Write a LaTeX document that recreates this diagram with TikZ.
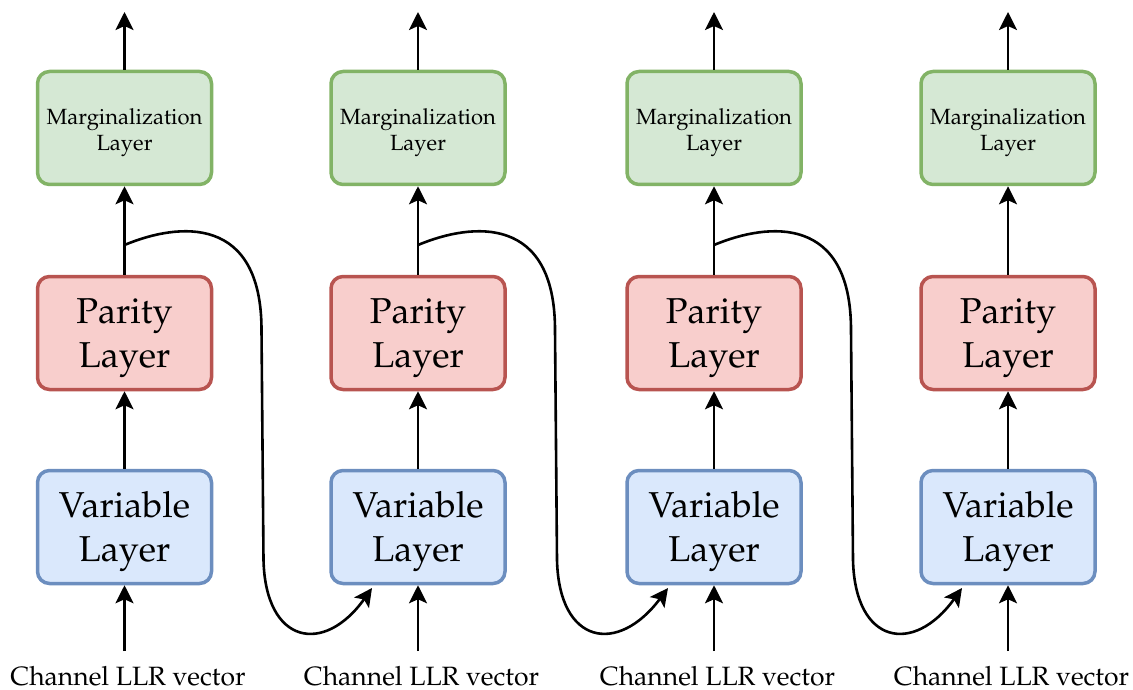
\documentclass[tikz,border=0pt]{standalone}
\usepackage[T1]{fontenc}
\usepackage{mathpazo}
\usetikzlibrary{arrows.meta}
\definecolor{gfill}{HTML}{D5E8D4}
\definecolor{gdraw}{HTML}{82B366}
\definecolor{rfill}{HTML}{F8CECC}
\definecolor{rdraw}{HTML}{B85450}
\definecolor{bfill}{HTML}{DAE8FC}
\definecolor{bdraw}{HTML}{6C8EBF}
\newcommand\twoline[2]{\raisebox{-4pt}[\height][\depth]{\begin{tabular}{@{}c@{}}#1\\#2\end{tabular}}}
\begin{document}
\begin{tikzpicture}[x=1pt,y=-1pt,
  box/.style={draw, line width=3.5pt, rounded corners=12pt, minimum width=174pt, minimum height=113pt, align=center, inner sep=0pt},
  margbox/.style={box, fill=gfill, draw=gdraw, font=\fontsize{22}{26}\selectfont},
  parbox/.style={box, fill=rfill, draw=rdraw, font=\fontsize{36}{44}\selectfont},
  varbox/.style={box, fill=bfill, draw=bdraw, font=\fontsize{36}{44}\selectfont},
  lbl/.style={font=\fontsize{26.5}{30}\selectfont, inner sep=0pt, anchor=base},
  conn/.style={line width=2.6pt, -{Stealth[length=18pt,width=18pt,inset=4pt]}}
]
\useasboundingbox (0,0) rectangle (1133,690);
\foreach \i/\x in {1/124.5,2/418,3/714,4/1008} {
  \node[margbox] (m\i) at (\x,128) {\twoline{Marginalization}{Layer}};
  \node[parbox] (p\i) at (\x,333) {\twoline{Parity}{Layer}};
  \node[varbox] (v\i) at (\x,527) {\twoline{Variable}{Layer}};
  \node[lbl] (c\i) at (\x+3.5,685) {Channel LLR vector};
  \coordinate (o\i) at (\x,12);
  \coordinate (b\i) at (\x,651);
  \coordinate (s\i) at (\x,245);
  \coordinate (t\i) at (\x-46,588);
  \draw[conn] (m\i.north) -- (o\i);
  \draw[conn] (p\i.north) -- (m\i.south);
  \draw[conn] (v\i.north) -- (p\i.south);
  \draw[conn] (b\i) -- (v\i.south);
}
\foreach \i/\j/\x in {1/2/124.5,2/3/418,3/4/714} {
  \draw[conn] (s\i) .. controls (\x+55,222) and (\x+137,215) .. (\x+137,330)
    -- (\x+139,560) .. controls (\x+141,645) and (\x+200,655) .. (t\j);
}
\end{tikzpicture}
\end{document}
